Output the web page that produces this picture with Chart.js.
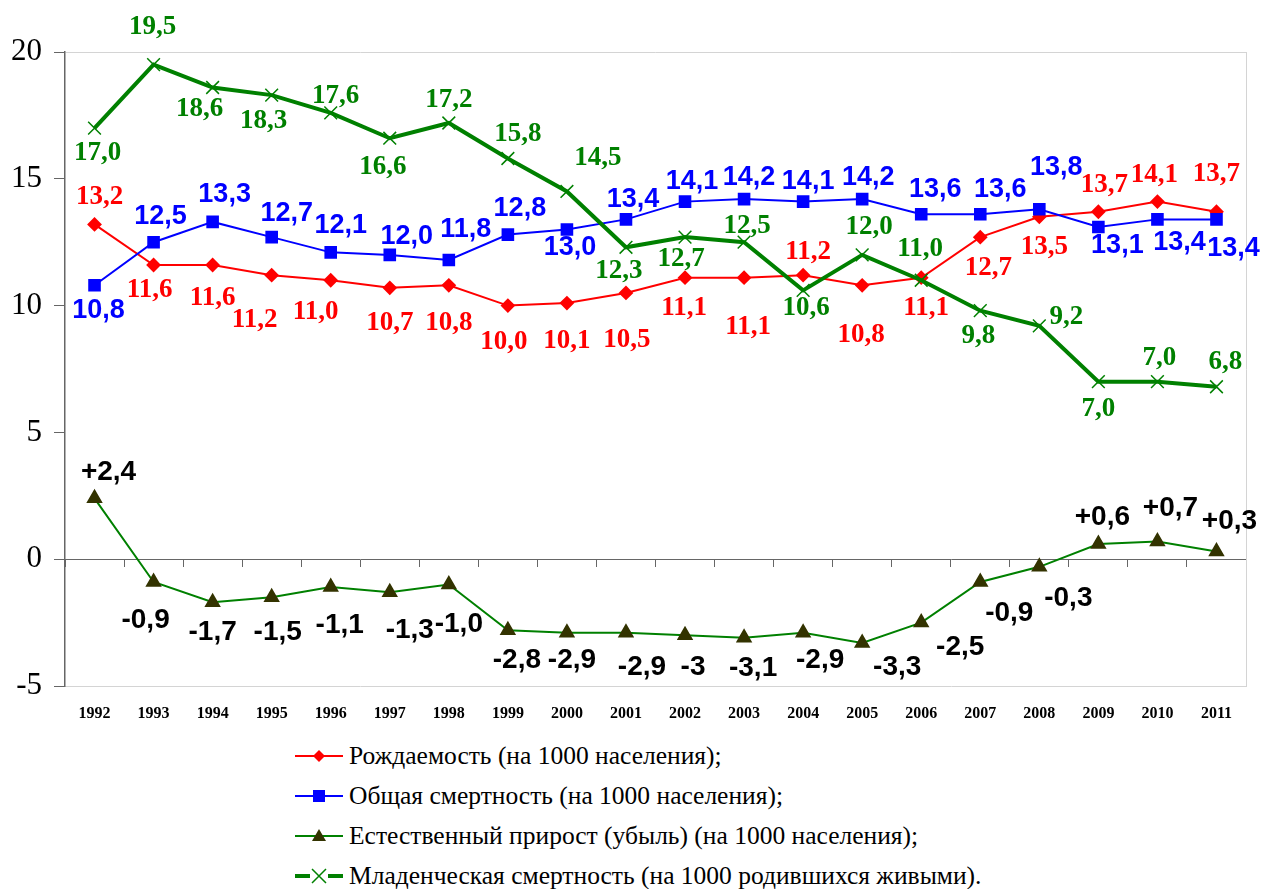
<!DOCTYPE html>
<html>
<head>
<meta charset="utf-8">
<script src="https://cdn.jsdelivr.net/npm/chart.js@4"></script>
<style>
  body { margin: 0; background: #fff; }
  #wrap { position: relative; width: 1263px; height: 889px; }
  #legend { position: absolute; left: 295px; top: 736px; font-family: "Liberation Serif", "Times New Roman", serif; font-size: 25.5px; color: #000; }
  .row { height: 40px; display: flex; align-items: center; }
  .row svg { margin-right: 6px; }
</style>
</head>
<body>
<div id="wrap">
  <canvas id="chart" width="1263" height="730"></canvas>
  <div id="legend"></div>
</div>
<script>
// years and series (per 1000)
const years = ['1992','1993','1994','1995','1996','1997','1998','1999','2000','2001',
               '2002','2003','2004','2005','2006','2007','2008','2009','2010','2011'];
const birthRate = [13.2, 11.6, 11.6, 11.2, 11.0, 10.7, 10.8, 10.0, 10.1, 10.5,
                   11.1, 11.1, 11.2, 10.8, 11.1, 12.7, 13.5, 13.7, 14.1, 13.7];
const deathRate = [10.8, 12.5, 13.3, 12.7, 12.1, 12.0, 11.8, 12.8, 13.0, 13.4,
                   14.1, 14.2, 14.1, 14.2, 13.6, 13.6, 13.8, 13.1, 13.4, 13.4];
const naturalGrowth = [2.4, -0.9, -1.7, -1.5, -1.1, -1.3, -1.0, -2.8, -2.9, -2.9,
                       -3, -3.1, -2.9, -3.3, -2.5, -0.9, -0.3, 0.6, 0.7, 0.3];
// natural growth labels as printed on the chart (signs, "-3" without decimals)
const naturalText = ['+2,4', '-0,9', '-1,7', '-1,5', '-1,1', '-1,3', '-1,0', '-2,8', '-2,9', '-2,9',
                     '-3', '-3,1', '-2,9', '-3,3', '-2,5', '-0,9', '-0,3', '+0,6', '+0,7', '+0,3'];
const infantMortality = [17.0, 19.5, 18.6, 18.3, 17.6, 16.6, 17.2, 15.8, 14.5, 12.3,
                         12.7, 12.5, 10.6, 12.0, 11.0, 9.8, 9.2, 7.0, 7.0, 6.8];
const yTicks = [-5, 0, 5, 10, 15, 20];

const seriesNames = [
  'Рождаемость (на 1000 населения);',
  'Общая смертность (на 1000 населения);',
  'Естественный прирост (убыль) (на 1000 населения);',
  'Младенческая смертность (на 1000 родившихся живыми).'
];

// where each value label sits relative to its point
const labelOffsets = {
  birth: [[5,-27],[-4,25],[0,33],[-17,45],[-15,32],[0,35],[0,38],[-4,36],[0,38],[1,47],
          [-1,30],[4,49],[5,-23],[-1,50],[5,30],[8,31],[5,30],[6,-27],[-3,-27],[0,-38]],
  death: [[4,25],[7,-26],[12,-27],[15,-24],[10,-27],[17,-18],[17,-30],[12,-26],[3,18],[7,-20],
          [7,-20],[5,-22],[5,-20],[6,-22],[14,-25],[20,-25],[17,-42],[19,19],[22,23],[17,29]],
  natural: [[14,-26],[-8,38],[0,30],[6,35],[9,38],[20,38],[10,40],[9,30],[5,28],[16,35],
            [8,32],[9,30],[17,28],[35,24],[39,25],[29,31],[29,31],[4,-27],[13,-33],[13,-30]],
  infant: [[3,25],[-1,-38],[-13,22],[-8,26],[5,-17],[-7,29],[0,-23],[10,-24],[31,-33],[-7,24],
           [-4,22],[3,-16],[3,18],[7,-28],[-1,-31],[-2,25],[27,-9],[0,27],[2,-24],[9,-25]]
};

function fmt(v) { return v.toFixed(1).replace('.', ','); }

const valueLabels = {
  id: 'valueLabels',
  afterDatasetsDraw(chart) {
    const ctx = chart.ctx;
    chart.data.datasets.forEach(function(ds, di) {
      const meta = chart.getDatasetMeta(di);
      const lb = ds.valueLabel;
      ctx.save();
      ctx.font = lb.font;
      ctx.fillStyle = lb.color;
      ctx.textAlign = 'center';
      ctx.textBaseline = 'middle';
      meta.data.forEach(function(pt, i) {
        const off = labelOffsets[lb.key][i];
        ctx.fillText(lb.format(ds.data[i], i), pt.x + off[0], pt.y + off[1]);
      });
      ctx.restore();
    });
  }
};

const serifBold = 'bold 27px "Liberation Serif", "Times New Roman", serif';
const sansBold = 'bold 27px "Liberation Sans", Arial, sans-serif';

const datasets = [
  {
    label: seriesNames[0], data: birthRate, order: 3,
    borderColor: '#ff0000', backgroundColor: '#ff0000', borderWidth: 2,
    pointStyle: 'rectRot', pointRadius: 6, pointBackgroundColor: '#ff0000', pointBorderColor: '#ff0000',
    valueLabel: { key: 'birth', font: serifBold, color: '#ff0000', format: fmt }
  },
  {
    label: seriesNames[1], data: deathRate, order: 2,
    borderColor: '#0000ff', backgroundColor: '#0000ff', borderWidth: 2,
    pointStyle: 'rect', pointRadius: 7.5, pointBackgroundColor: '#0000ff', pointBorderColor: '#0000ff',
    valueLabel: { key: 'death', font: sansBold, color: '#0000ff', format: fmt }
  },
  {
    label: seriesNames[2], data: naturalGrowth, order: 1,
    borderColor: '#008000', backgroundColor: '#333300', borderWidth: 2,
    pointStyle: 'triangle', pointRadius: 7.5, pointBackgroundColor: '#333300', pointBorderColor: '#333300',
    valueLabel: { key: 'natural', font: 'bold 28px "Liberation Sans", Arial, sans-serif', color: '#000',
                  format: function(v, i) { return naturalText[i]; } }
  },
  {
    label: seriesNames[3], data: infantMortality, order: 0,
    borderColor: '#008000', backgroundColor: '#008000', borderWidth: 4,
    pointStyle: 'crossRot', pointRadius: 9, pointBorderWidth: 1.5, pointBorderColor: '#008000',
    valueLabel: { key: 'infant', font: serifBold, color: '#008000', format: fmt }
  }
];

var ctx = document.getElementById('chart').getContext('2d');
var myChart = new Chart(ctx, {
  type: 'line',
  data: { labels: years, datasets: datasets },
  options: {
    responsive: false,
    animation: false,
    layout: { padding: { top: 52, left: 0, right: 17, bottom: 0 } },
    elements: { line: { tension: 0 } },
    plugins: { legend: { display: false }, tooltip: { enabled: false } },
    scales: {
      x: {
        type: 'category', position: 'bottom', offset: true,
        grid: { display: false, drawTicks: false },
        border: { color: '#d4d4d4', width: 1 },
        ticks: { color: '#000', padding: 18, font: { family: '"Liberation Serif", "Times New Roman", serif', size: 16, weight: 'bold' } },
        afterFit: function(s) { s.height = 44; }
      },
      xZero: {
        type: 'category', position: { y: 0 }, offset: true,
        grid: { offset: true, drawOnChartArea: false, drawTicks: true, tickLength: 7, tickColor: '#666' },
        border: { color: '#666', width: 1 },
        ticks: { display: false }
      },
      y: {
        type: 'linear', position: 'left',
        min: yTicks[0], max: yTicks[yTicks.length - 1],
        ticks: { stepSize: 5, color: '#000', padding: 12, font: { family: '"Liberation Serif", "Times New Roman", serif', size: 31 } },
        grid: {
          color: function(c) { return c.tick && c.tick.value === 20 ? '#d4d4d4' : 'rgba(0,0,0,0)'; },
          tickColor: '#666', tickLength: 11, drawTicks: true
        },
        border: { color: '#666', width: 1.5 },
        afterFit: function(s) { s.width = 65; }
      },
      yRight: {
        type: 'linear', position: 'right', min: -5, max: 20,
        ticks: { display: false }, grid: { display: false, drawTicks: false },
        border: { color: '#d4d4d4', width: 1 },
        afterFit: function(s) { s.width = 0; }
      }
    }
  },
  plugins: [valueLabels]
});

// legend below the chart: line sample with marker, then the series name
var markers = [
  '<polygon points="24,4 30,10 24,16 18,10" fill="#ff0000"/>',
  '<rect x="18" y="4" width="12" height="12" fill="#0000ff"/>',
  '<polygon points="24,3 31,15 17,15" fill="#333300"/>',
  '<path d="M17,3 L31,17 M31,3 L17,17" stroke="#008000" stroke-width="1.5"/>'
];
var lineW = [2, 2, 2, 4];
var lineC = ['#ff0000', '#0000ff', '#008000', '#008000'];
var legend = document.getElementById('legend');
seriesNames.forEach(function(name, i) {
  var row = document.createElement('div');
  row.className = 'row';
  var gap = i === 3 ? '<line x1="0" y1="10" x2="15" y2="10" stroke="' + lineC[i] + '" stroke-width="4"/><line x1="33" y1="10" x2="48" y2="10" stroke="' + lineC[i] + '" stroke-width="4"/>'
                    : '<line x1="0" y1="10" x2="48" y2="10" stroke="' + lineC[i] + '" stroke-width="' + lineW[i] + '"/>';
  row.innerHTML = '<svg width="48" height="20">' + gap + markers[i] + '</svg><span>' + name + '</span>';
  legend.appendChild(row);
});
</script>
</body>
</html>
